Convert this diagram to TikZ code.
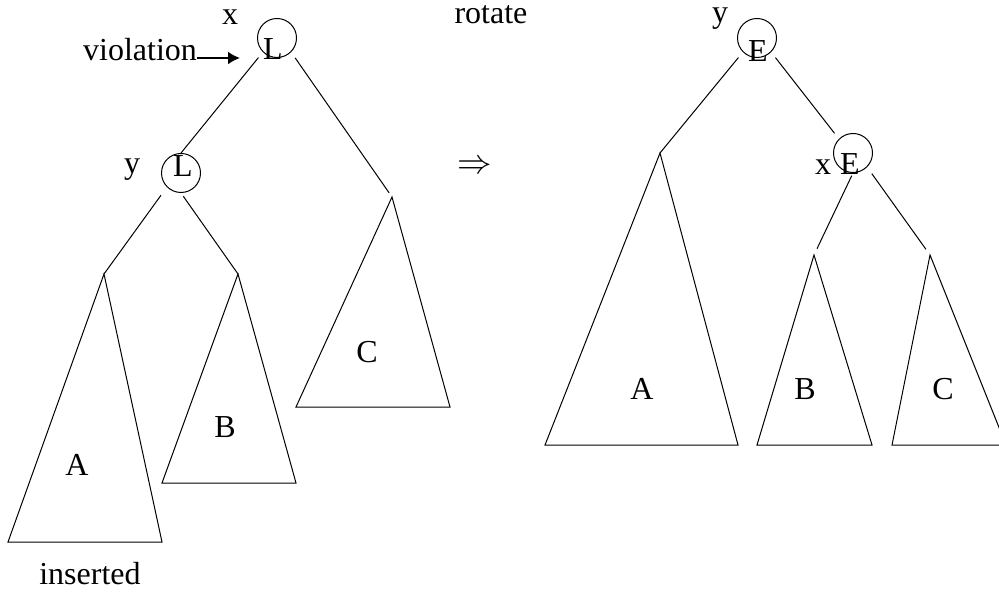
\documentclass[tikz,border=0pt]{standalone}
\usepackage{fontspec}
\setmainfont{Liberation Serif}
\usetikzlibrary{arrows.meta}

\begin{document}
\begin{tikzpicture}[x=0.5pt,y=-0.5pt,
  font=\fontsize{16}{19}\selectfont,
  vertex/.style={draw,circle,inner sep=0pt,minimum size=19.5pt,line width=0.5pt},
  lbl/.style={anchor=base,inner sep=0pt},
  branch/.style={line width=0.5pt,shorten <=3.5pt},
  subtree/.style={line width=0.5pt}]
  \useasboundingbox (0,0) rectangle (999,592);
  % before: x unbalanced, y its left child
  \node[vertex] (xl) at (277,38) {};
  \node[vertex] (yl) at (181,173) {};
  \node[lbl] at (273,60) {L};
  \node[lbl] at (183,177) {L};
  \node[lbl] (xlname) at (230,25) {x};
  \node[lbl] (ylname) at (132,174) {y};
  \node[lbl] (viol) at (140,61) {violation};
  \coordinate (vtip) at (240,58);
  \draw[-{Latex[length=6pt,width=6.5pt]},line width=1pt] (viol.east |- vtip) -- (vtip);
  \node[lbl] (ins) at (90,584) {inserted};
  % after: y is the new root
  \node[vertex] (yr) at (757,38) {};
  \node[vertex] (xr) at (853,153) {};
  \node[lbl] at (758,62) {E};
  \node[lbl] at (850,175) {E};
  \node[lbl] (yrname) at (720,23) {y};
  \node[lbl] (xrname) at (823,175) {x};
  \node[lbl] (rot) at (491,24) {rotate};
  \node (arr) at (475,167) {$\Rightarrow$};
  % subtrees
  \foreach \n/\ax/\ay/\bl/\br/\by/\lx/\ly/\t in {
    la/104/274/8/162/542/77/475/A, lb/238/274/162/296/483/225/437/B,
    lc/392/197/296/450/407/367/363/C, ra/660/153/545/738/445/642/400/A,
    rb/814/255/757/872/445/805/400/B, rc/930/255/892/1006/445/943/400/C}{
    \coordinate (\n) at (\ax,\ay);
    \draw[subtree] (\n) -- (\bl,\by) -- (\br,\by) -- cycle;
    \node[lbl] (\n-name) at (\lx,\ly) {\t};
  }
  \draw[branch] (xl.south west) -- (yl.north);
  \draw[branch,shorten >=2.5pt] (xl.south east) -- (lc);
  \draw[branch,shorten <=5pt] (yl.south west) -- (la);
  \draw[branch,shorten <=2pt] (yl.south) -- (lb);
  \draw[branch] (yr.south west) -- (ra);
  \draw[branch,shorten >=3.5pt] (yr.south east) -- (xr.north west);
  \draw[branch,shorten <=1.5pt,shorten >=3.5pt] (xr.south) -- (rb);
  \draw[branch,shorten <=4pt,shorten >=3.5pt] (xr.south east) -- (rc);
\end{tikzpicture}
\end{document}
